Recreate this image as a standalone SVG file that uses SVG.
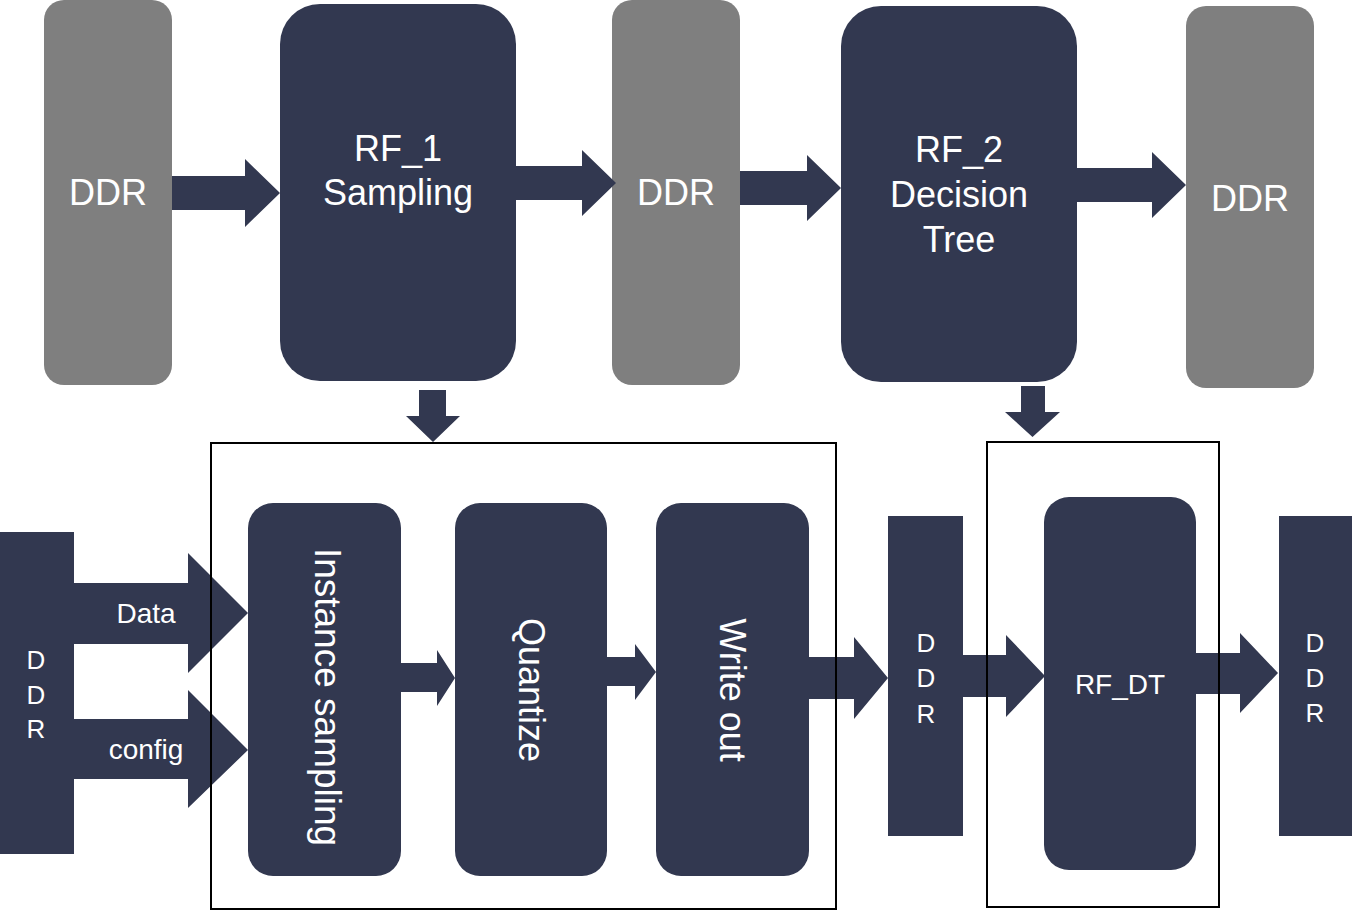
<svg xmlns="http://www.w3.org/2000/svg" width="1352" height="910" viewBox="0 0 1352 910">
<style>
.dark{fill:#323850}
.gray{fill:#7f7f7f}
.arr{fill:#323850}
.frame{fill:none;stroke:#000;stroke-width:2}
text{font-family:"Liberation Sans",Arial,sans-serif;fill:#fff;text-anchor:middle}
.big{font-size:36px}
.mid{font-size:28px}
.sm{font-size:26px}
</style>
<rect width="1352" height="910" fill="#fff"/>
<g id="ddr_top1"><rect class="gray" x="44" y="0" width="128" height="385" rx="20"/><text class="big" x="108" y="205">DDR</text></g>
<g id="rf1"><rect class="dark" x="280" y="4" width="236" height="377" rx="40"/><text class="big" x="398" y="161">RF_1</text><text class="big" x="398" y="205">Sampling</text></g>
<g id="ddr_top2"><rect class="gray" x="612" y="0" width="128" height="385" rx="20"/><text class="big" x="676" y="205">DDR</text></g>
<g id="rf2"><rect class="dark" x="841" y="6" width="236" height="376" rx="40"/><text class="big" x="959" y="162">RF_2</text><text class="big" x="959" y="207">Decision</text><text class="big" x="959" y="252">Tree</text></g>
<g id="ddr_top3"><rect class="gray" x="1186" y="6" width="128" height="382" rx="20"/><text class="big" x="1250" y="211">DDR</text></g>
<g id="ddr_left"><rect class="dark" x="0" y="532" width="74" height="322"/><text class="sm" x="36" y="669">D</text><text class="sm" x="36" y="704">D</text><text class="sm" x="36" y="738">R</text></g>
<g id="instance"><rect class="dark" x="248" y="503" width="153" height="373" rx="25"/><text class="big" style="font-size:37px" transform="translate(328,697) rotate(90)" y="13">Instance sampling</text></g>
<g id="quantize"><rect class="dark" x="455" y="503" width="152" height="373" rx="25"/><text class="big" transform="translate(532,690) rotate(90)" y="13">Quantize</text></g>
<g id="writeout"><rect class="dark" x="656" y="503" width="153" height="373" rx="25"/><text class="big" transform="translate(733,690) rotate(90)" y="13">Write out</text></g>
<g id="ddr_mid"><rect class="dark" x="888" y="516" width="75" height="320"/><text class="sm" x="926" y="652">D</text><text class="sm" x="926" y="687">D</text><text class="sm" x="926" y="723">R</text></g>
<g id="rfdt"><rect class="dark" x="1044" y="497" width="152" height="373" rx="25"/><text class="mid" x="1120" y="694">RF_DT</text></g>
<g id="ddr_right"><rect class="dark" x="1279" y="516" width="73" height="320"/><text class="sm" x="1315" y="652">D</text><text class="sm" x="1315" y="687">D</text><text class="sm" x="1315" y="722">R</text></g>
<g id="connectors">
<polygon class="arr" points="172,176 245,176 245,159 280,193 245,227 245,210 172,210"/>
<polygon class="arr" points="516,166 582,166 582,150 616,183 582,216 582,200 516,200"/>
<polygon class="arr" points="740,171 807,171 807,155 841,188 807,221 807,205 740,205"/>
<polygon class="arr" points="1077,168 1152,168 1152,152 1186,185 1152,218 1152,202 1077,202"/>
<polygon class="arr" points="419,390 446,390 446,416 460,416 433,442 406,416 419,416"/>
<polygon class="arr" points="1021,386 1045,386 1045,412 1060,412 1032.5,437 1005,412 1021,412"/>
<polygon class="arr" points="74,583 188,583 188,553 248,613 188,673 188,644 74,644"/>
<polygon class="arr" points="74,719 188,719 188,690 248,750 188,808 188,779 74,779"/>
<polygon class="arr" points="401,663 437,663 437,650 455,678 437,706 437,692 401,692"/>
<polygon class="arr" points="607,657 635,657 635,644 656,672 635,700 635,686 607,686"/>
<polygon class="arr" points="809,657 854,657 854,637 888,678 854,719 854,699 809,699"/>
<polygon class="arr" points="963,655 1006,655 1006,635 1045,676 1006,717 1006,697 963,697"/>
<polygon class="arr" points="1196,653 1240,653 1240,633 1278,673 1240,713 1240,694 1196,694"/>
<text class="mid" x="146" y="623">Data</text>
<text class="mid" x="146" y="759">config</text>
</g>
<g id="frame_rf1"><rect class="frame" x="211" y="443" width="625" height="466"/></g>
<g id="frame_rf2"><rect class="frame" x="987" y="442" width="232" height="465"/></g>
</svg>
